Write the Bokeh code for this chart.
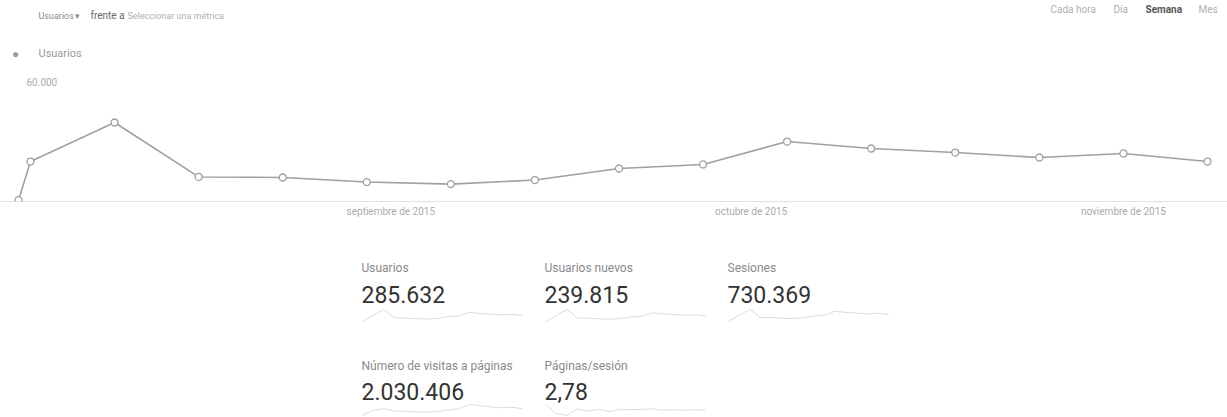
import pandas as pd
from bokeh.plotting import figure
from bokeh.models import Range1d, Label, FixedTicker, Span, Spacer, ColumnDataSource
from bokeh.layouts import column, row
from bokeh.embed import file_html
from bokeh.resources import INLINE

# ---------------- data ----------------
week_starts = ["2015-08-01", "2015-08-02", "2015-08-09", "2015-08-16", "2015-08-23",
               "2015-08-30", "2015-09-06", "2015-09-13", "2015-09-20", "2015-09-27",
               "2015-10-04", "2015-10-11", "2015-10-18", "2015-10-25", "2015-11-01",
               "2015-11-08"]
users = [700, 21800, 43100, 13400, 13100, 10600, 9500, 11700, 18000, 20200,
         32700, 28900, 26700, 24000, 26200, 21800]

month_ticks = ["2015-09-01", "2015-10-01", "2015-11-01"]
month_labels = ["septiembre de 2015", "octubre de 2015", "noviembre de 2015"]
y_tick_value = 60000
y_tick_label = "60.000"

metric_name = "Usuarios"
compare_text = "frente a"
select_text = "Seleccionar una métrica"
intervals = ["Cada hora", "Día", "Semana", "Mes"]
active_interval = "Semana"
legend_label = "Usuarios"

card_labels_1 = ["Usuarios", "Usuarios nuevos", "Sesiones"]
card_values_1 = ["285.632", "239.815", "730.369"]
card_labels_2 = ["Número de visitas a páginas", "Páginas/sesión"]
card_values_2 = ["2.030.406", "2,78"]

spark_users = users
spark_new_users = [600, 19500, 39000, 11500, 11200, 9000, 8100, 10000, 15500, 17400,
                   28500, 25000, 22900, 20500, 22400, 18600]
spark_sessions = [1800, 52000, 98000, 34000, 33500, 28000, 25500, 30500, 46000, 52000,
                  84000, 75000, 69500, 62000, 68000, 57000]
spark_pageviews = [5000, 120000, 150000, 100000, 95000, 82000, 76000, 88000, 120000, 150000,
                   240000, 215000, 190000, 170000, 180000, 150000]
spark_pps = [2.9, 2.7, 2.65, 2.8, 2.75, 2.79, 2.74, 2.79, 2.78, 2.79,
             2.8, 2.77, 2.78, 2.77, 2.78, 2.77]

# ---------------- helpers ----------------
FONT = "Roboto"
W = 1227
DAY = 86400000.0


def ms(s):
    return pd.Timestamp(s).value / 1e6


def add_text(fig, x, y, text, size, color, style="normal", align="left", **kw):
    fig.add_layout(Label(x=x, y=y, text=text, text_font=FONT, text_font_size=size,
                         text_color=color, text_font_style=style, text_align=align,
                         text_baseline="middle", **kw))


def bare(width, height, **kw):
    f = figure(width=width, height=height, output_backend="svg", toolbar_location=None,
               x_axis_location=None, y_axis_location=None, min_border=0,
               outline_line_color=None, title=None, **kw)
    f.grid.visible = False
    f.background_fill_color = "white"
    f.border_fill_color = "white"
    return f


# ---------------- header ----------------
HH = 75
header = bare(W, HH, x_range=Range1d(0, W), y_range=Range1d(HH, 0))
add_text(header, 38, 15, metric_name, "9px", "#8c8c8c")
add_text(header, 74, 15, "▾", "9px", "#8c8c8c")
add_text(header, 90, 15, compare_text, "10px", "#666666")
add_text(header, 127, 15, select_text, "9px", "#b0b0b0")
interval_x = [1050, 1113, 1145, 1198]
for xx, t in zip(interval_x, intervals):
    if t == active_interval:
        add_text(header, xx, 9, t, "10px", "#555555", style="bold")
    else:
        add_text(header, xx, 9, t, "10px", "#b0b0b0")
add_text(header, 15, 53, "●", "12px", "#9a9a9a", align="center")
add_text(header, 38, 53, legend_label, "11px", "#9a9a9a")

# ---------------- main chart ----------------
MH = 150
frame_h = 126          # frame spans y 75..201 of the page
px_to_top_tick = 110   # y_tick_value sits 110px above the baseline
x0 = ms(week_starts[0])
x1 = ms(week_starts[-1])
# first point sits 18px from the left, last point 20px from the right
px_per_day = 1189 / ((x1 - x0) / DAY)
x_start = x0 - 18 / px_per_day * DAY
x_end = x1 + 20 / px_per_day * DAY

p = figure(width=W, height=MH, output_backend="svg", toolbar_location=None,
           x_axis_type="datetime", y_axis_location=None, title=None,
           x_range=Range1d(x_start, x_end),
           y_range=Range1d(0, y_tick_value * frame_h / px_to_top_tick),
           min_border_left=0, min_border_right=0, min_border_top=0,
           min_border_bottom=MH - frame_h, outline_line_color=None)
p.grid.visible = False
p.background_fill_color = "white"
p.border_fill_color = "white"

src = ColumnDataSource(data=dict(x=pd.to_datetime(week_starts), users=users))
p.add_layout(Span(location=0, dimension="width", line_color="#c4c4c4", line_width=1))
p.line(x="x", y="users", source=src, line_color="#a0a0a0", line_width=1.6)
p.scatter(x="x", y="users", source=src, size=7, fill_color="white",
          line_color="#a0a0a0", line_width=1.3)

xa = p.xaxis[0]
xa.ticker = FixedTicker(ticks=[ms(t) for t in month_ticks], minor_ticks=[])
xa.major_label_overrides = {ms(t): lab for t, lab in zip(month_ticks, month_labels)}
xa.axis_line_color = None
xa.major_tick_line_color = None
xa.minor_tick_line_color = None
xa.major_tick_in = 0
xa.major_tick_out = 0
xa.major_label_standoff = 4
xa.major_label_text_font = FONT
xa.major_label_text_font_size = "10px"
xa.major_label_text_color = "#ababab"

p.add_layout(Label(x=x0, y=y_tick_value, x_offset=8, y_offset=6, text=y_tick_label,
                   text_font=FONT, text_font_size="10px", text_color="#ababab",
                   text_baseline="bottom", text_align="left"))

# ---------------- scorecards ----------------
CW = 183
SPARK_W = 160


def card(label, val, spark, H, label_y, value_y, band_top, band_bot):
    c = bare(CW, H, x_range=Range1d(0, CW), y_range=Range1d(H, 0))
    add_text(c, 0, label_y, label, "12px", "#8a8a8a")
    add_text(c, 0, value_y, val, "23px", "#333333")
    n = len(spark)
    ppu = SPARK_W / (n - 1)
    c.extra_x_ranges = {"s": Range1d(-1 / ppu, -1 / ppu + CW / ppu)}
    vmin, vmax = min(spark), max(spark)
    k = (vmax - vmin) / (band_bot - band_top)
    c.extra_y_ranges = {"s": Range1d(vmin - (H - band_bot) * k, vmax + band_top * k)}
    c.line(list(range(n)), spark, x_range_name="s", y_range_name="s",
           line_color="#dcdcdc", line_width=1)
    return c


H1, H2 = 100, 92
sparks1 = [spark_users, spark_new_users, spark_sessions]
sparks2 = [spark_pageviews, spark_pps]
row1 = row([Spacer(width=361, height=H1)] +
           [card(l, v, s, H1, 42, 69, 84, 96)
            for l, v, s in zip(card_labels_1, card_values_1, sparks1)])
row2 = row([Spacer(width=361, height=H2)] +
           [card(l, v, s, H2, 40, 66, 79, 90)
            for l, v, s in zip(card_labels_2, card_values_2, sparks2)])

layout = column(header, p, row1, row2)

open("out.html", "w").write(file_html(layout, INLINE))
